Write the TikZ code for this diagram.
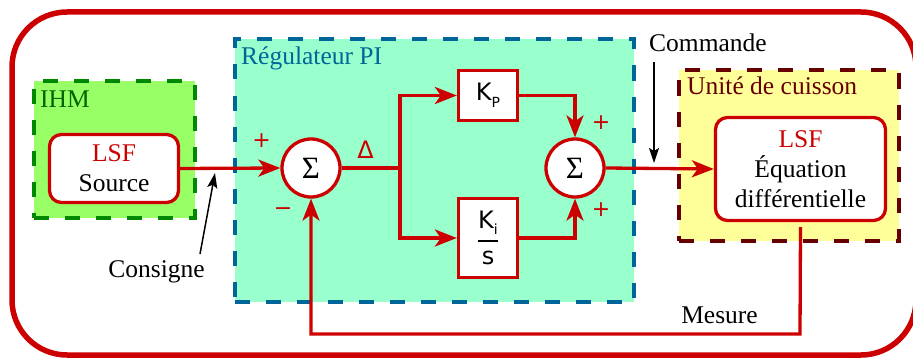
\documentclass[tikz,border=0pt]{standalone}
\usepackage{fontspec}
\usepackage{amsmath}
\setmainfont{Liberation Serif}
\newfontfamily\sansf{DejaVu Sans}
\usetikzlibrary{arrows.meta}
\definecolor{rd}{HTML}{CC0000}
\definecolor{ihmf}{HTML}{99FF66}
\definecolor{ihmb}{HTML}{008800}
\definecolor{ihmt}{HTML}{006600}
\definecolor{regf}{HTML}{99FFCC}
\definecolor{regb}{HTML}{006699}
\definecolor{unif}{HTML}{FFFF99}
\definecolor{unib}{HTML}{660000}
\begin{document}
\begin{tikzpicture}[x=1pt,y=-1pt,
  every node/.style={font=\fontsize{25.5}{30}\selectfont, inner sep=0pt},
  grp/.style={rectangle, line width=4pt, dash pattern=on 15pt off 16pt},
  lsf/.style={rectangle, draw=rd, fill=white, line width=3.3pt, rounded corners=12pt, align=center},
  blk/.style={draw=rd, fill=white, line width=3.3pt, rectangle},
  sumnode/.style={circle, draw=rd, fill=white, line width=3.3pt, minimum size=58pt, font=\fontsize{31}{31}\selectfont},
  sig/.style={draw=rd, line width=3.3pt, -{Stealth[length=22pt,width=17pt,inset=6pt]}},
  sigline/.style={draw=rd, line width=3.3pt},
  note/.style={draw=black, line width=1.5pt, -{Stealth[length=15pt,width=10pt,inset=3pt]}},
  sgn/.style={text=rd, font=\sansf\fontsize{22}{22}\selectfont}
]
\useasboundingbox (0,0) rectangle (913,361);
% outer frame
\draw[rd, line width=5.5pt, rounded corners=55pt] (12,12) rectangle (916,355);
% groups
\node[grp, draw=ihmb, fill=ihmf, minimum width=161pt, minimum height=136pt] (ihm) at (114,149.5) {};
\node[anchor=base west, text=ihmt] (ihml) at (40,107) {IHM};
\node[grp, draw=regb, fill=regf, minimum width=399pt, minimum height=262pt] (reg) at (434,170.5) {};
\node[anchor=base west, text=regb] (regl) at (241,65) {Régulateur PI};
\node[grp, draw=unib, fill=unif, minimum width=220pt, minimum height=170pt] (uni) at (788.5,155.5) {};
\node[anchor=base west, text=unib] (unil) at (687,95) {Unité de cuisson};
% blocks
\node[lsf, minimum width=129pt, minimum height=68pt] (src) at (114,168.5) {\textcolor{rd}{LSF}\\Source};
\node[lsf, minimum width=170pt, minimum height=103pt] (eq) at (800.5,169) {\textcolor{rd}{LSF}\\Équation\\différentielle};
\node[sumnode] (s1) at (311,168) {Σ};
\node[sumnode] (s2) at (575,168) {Σ};
\node[blk, minimum width=59pt, minimum height=50pt, font=\sansf\fontsize{24}{24}\selectfont] (kp) at (488,95.5)
  {K\raisebox{-7pt}{\fontsize{14}{14}\selectfont P}};
\node[blk, minimum width=59pt, minimum height=79pt, font=\sansf\fontsize{24}{24}\selectfont] (ki) at (488,238)
  {$\genfrac{}{}{2pt}{0}{\mbox{\sansf\fontsize{24}{24}\selectfont K\raisebox{-6pt}{\fontsize{14}{14}\selectfont i}}}{\mbox{\sansf\fontsize{24}{24}\selectfont s}}$};
% signs
\node[sgn] (p1) at (261.5,141) {+};
\node[sgn] (m1) at (283,212) {−};
\node[sgn, anchor=base, font=\sansf\fontsize{24}{24}\selectfont] (dl) at (365.5,158) {Δ};
\node[sgn] (p2) at (601,123) {+};
\node[sgn] (p3) at (601,210) {+};
% connectors
\coordinate (br) at (400,168);
\path[sig] (src.east) -- (s1.west);
\path[sigline] (s1.east) -- (br);
\path[sig] (br) |- (kp.west);
\path[sig] (br) |- (ki.west);
\path[sig] (kp.east) -| (s2.north);
\path[sig] (ki.east) -| (s2.south);
\path[sig] (s2.east) -- (eq.west);
\coordinate (fb) at (800,334);
\path[sig] ([yshift=-5pt]eq.south) -- (fb) -| (s1.south);
% annotations
\node[anchor=base] (cmd) at (708,52) {Commande};
\coordinate (cmdtop) at (654,62);
\coordinate (cmdtip) at (654,163);
\path[note] (cmdtop) -- (cmdtip);
\node[anchor=base] (cons) at (156.5,277) {Consigne};
\coordinate (ctail) at (200,254);
\coordinate (ctip) at (215,173);
\path[note] (ctail) -- (ctip);
\node[anchor=base] (mes) at (719.5,323) {Mesure};
\end{tikzpicture}
\end{document}
